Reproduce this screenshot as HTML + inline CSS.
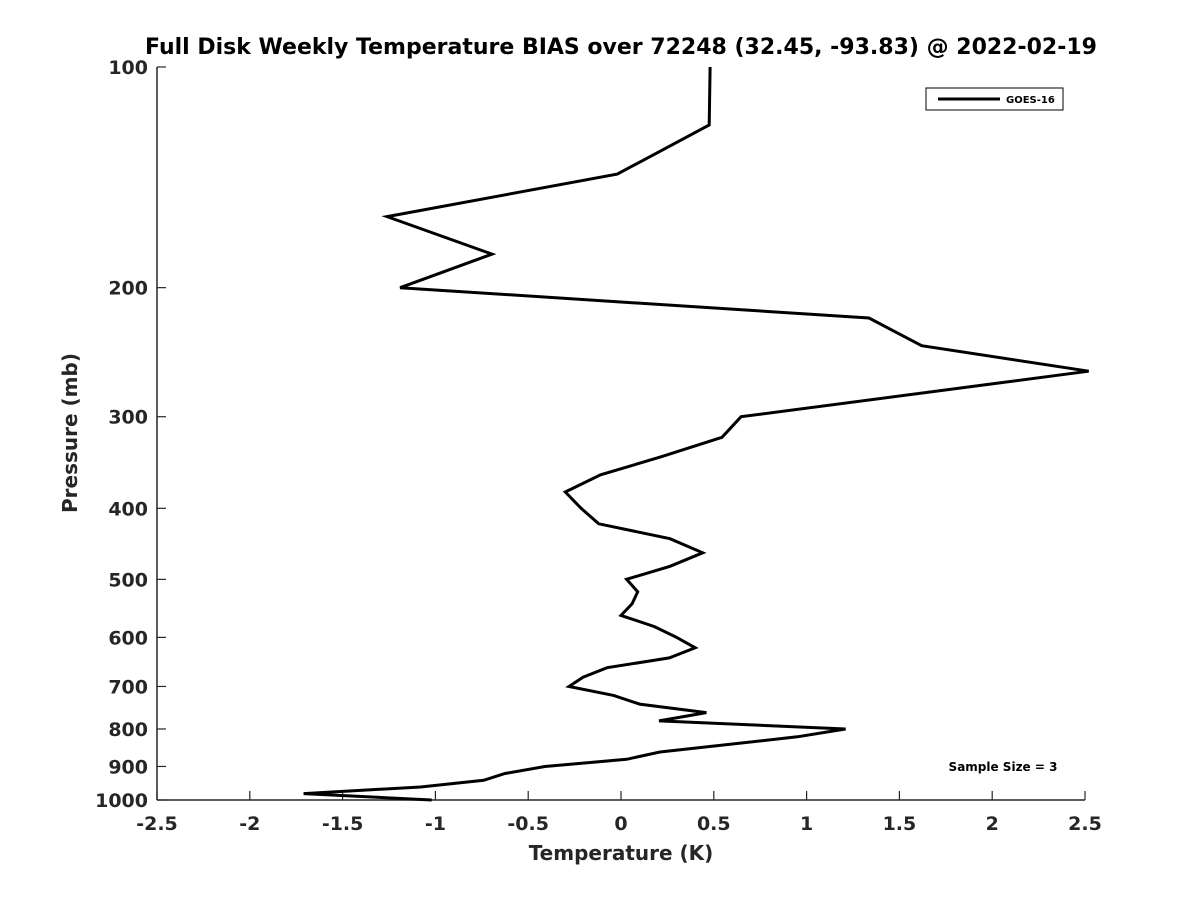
<!DOCTYPE html>
<html><head><meta charset="utf-8"><style>
body{margin:0;background:#fff}
svg text{font-family:"DejaVu Sans","Liberation Sans",sans-serif;font-weight:bold;fill:#262626}
</style></head><body>
<svg id="c" width="1200" height="900" xmlns="http://www.w3.org/2000/svg">
<rect width="1200" height="900" fill="#fff"/>
<text x="621" y="54" font-size="22" text-anchor="middle" style="fill:#000">Full Disk Weekly Temperature BIAS over 72248 (32.45, -93.83) @ 2022-02-19</text>
<g id="axes"></g>
<text x="621" y="860" font-size="20" text-anchor="middle">Temperature (K)</text>
<text transform="translate(77,433) rotate(-90)" font-size="20" text-anchor="middle">Pressure (mb)</text>
<g>
<rect x="926" y="88" width="137" height="22" fill="#fff" stroke="#000" stroke-width="1"/>
<line x1="938" y1="99" x2="1000" y2="99" stroke="#000" stroke-width="3"/>
<text x="1006" y="103" font-size="10" style="fill:#000">GOES-16</text>
</g>
<text x="1003" y="771" font-size="12" text-anchor="middle" style="fill:#000">Sample Size = 3</text>
</svg>
<script>
const pressures=[100,120,140,160,180,200,220,240,260,300,320,340,360,380,400,420,440,460,480,500,520,540,560,580,600,620,640,660,680,700,720,740,760,780,800,820,860,880,900,920,940,960,980,1000];
const bias=[0.48,0.475,-0.02,-1.26,-0.695,-1.19,1.336,1.62,2.52,0.647,0.544,0.22,-0.11,-0.30,-0.215,-0.12,0.264,0.44,0.264,0.03,0.09,0.06,0,0.18,0.30,0.40,0.26,-0.075,-0.205,-0.28,-0.04,0.10,0.46,0.205,1.21,0.95,0.21,0.03,-0.41,-0.625,-0.74,-1.08,-1.71,-1.02];
const xTicks=[-2.5,-2,-1.5,-1,-0.5,0,0.5,1,1.5,2,2.5];
const yTicks=[100,200,300,400,500,600,700,800,900,1000];
const L=157,R=1085,T=67,B=800;
const xs=v=>L+(v+2.5)/5*(R-L);
const ys=p=>T+Math.log10(p/100)*(B-T);
const NS="http://www.w3.org/2000/svg";
const svg=document.getElementById('c'),ax=document.getElementById('axes');
function mk(tag,attrs,parent){const e=document.createElementNS(NS,tag);for(const k in attrs)e.setAttribute(k,attrs[k]);(parent||svg).appendChild(e);return e;}
const xa=mk('line',{x1:L,y1:B,x2:R,y2:B,stroke:'#262626','stroke-width':1.5},ax);


const ya=mk('line',{x1:L,y1:T,x2:L,y2:B,stroke:'#262626','stroke-width':1.5},ax);


xTicks.forEach(v=>{const x=xs(v);
 mk('line',{x1:x,y1:B,x2:x,y2:B-9,stroke:'#262626','stroke-width':1.2},ax);
 const t=mk('text',{x:x,y:B+30,'font-size':19,'text-anchor':'middle'},ax);t.textContent=String(v);
 
 });
yTicks.forEach(p=>{const y=ys(p);
 mk('line',{x1:L,y1:y,x2:L+9,y2:y,stroke:'#262626','stroke-width':1.2},ax);
 const t=mk('text',{x:148,y:y+7,'font-size':19,'text-anchor':'end'},ax);t.textContent=String(p);
 
 });
const pts=pressures.map((p,i)=>xs(bias[i]).toFixed(1)+','+ys(p).toFixed(1)).join(' ');
const pl=mk('polyline',{points:pts,fill:'none',stroke:'#000','stroke-width':3,'stroke-linejoin':'miter'});


</script>
</body></html>
